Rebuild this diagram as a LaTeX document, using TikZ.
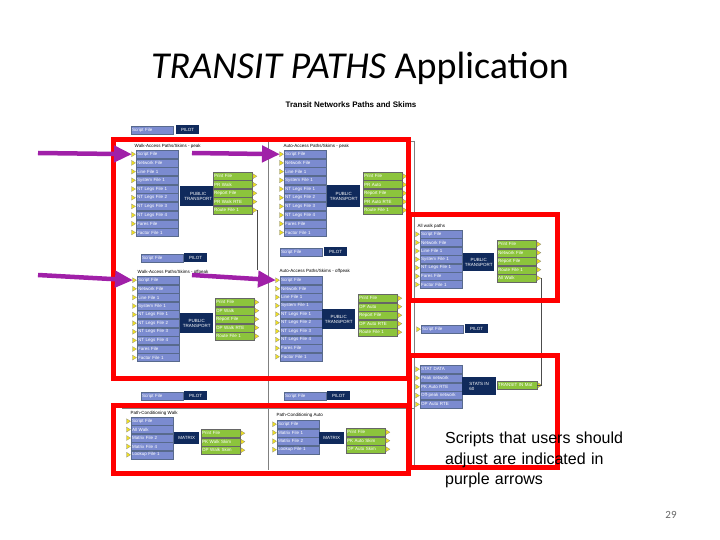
\documentclass[tikz,border=0pt]{standalone}
\usepackage{fontspec}
\setmainfont{Carlito}
\newfontfamily\smallsans{Liberation Sans}
\usetikzlibrary{calc,arrows.meta}
\definecolor{fblue}{HTML}{7B8BD0}
\definecolor{fgreen}{HTML}{8CC43C}
\definecolor{navy}{HTML}{102A5C}
\definecolor{pur}{HTML}{A020A8}
\definecolor{tri}{HTML}{F0E020}
\tikzset{
 bbox/.style={draw=navy!70,fill=fblue,text=white,font=\smallsans\fontsize{4.5}{5}\selectfont,anchor=north west,minimum height=8pt,inner sep=1pt,text width=#1pt,align=left},
 gbox/.style={draw=black!60,fill=fgreen,text=white,font=\smallsans\fontsize{4.5}{5}\selectfont,anchor=north west,minimum height=8pt,inner sep=1pt,text width=#1pt,align=left},
 pbox/.style={fill=navy,text=white,font=\smallsans\fontsize{4.5}{5}\selectfont,anchor=north west,inner sep=1pt,align=center},
 lab/.style={font=\smallsans\fontsize{4.5}{5}\selectfont,anchor=south west,inner sep=0.5pt},
 redbox/.style={draw=red,line width=5pt},
 parrow/.style={draw=pur,line width=4.5pt,-{Triangle[length=18pt,width=16pt]}},
 ytri/.style={fill=tri,draw=black!50,line width=0.2pt},
 frame/.style={draw=black!50,line width=0.6pt}
}
\newcommand\tri[1]{\filldraw[ytri] ($(#1)+(0.5,-2.5)$) -- ++(4,2.5) -- ++(-4,2.5) -- cycle;}
\newcommand\ltri[1]{\filldraw[ytri] ($(#1)+(-4.5,-2.5)$) -- ++(4,2.5) -- ++(-4,2.5) -- cycle;}
\begin{document}
\begin{tikzpicture}[x=1pt,y=-1pt]
\useasboundingbox (0,0) rectangle (720,540);
\node[font=\fontsize{38}{40}\selectfont] (title) at (360,68) {\textit{TRANSIT PATHS} Application};
\node[font=\smallsans\bfseries\fontsize{8}{9}\selectfont] (sub) at (351,105) {Transit Networks Paths and Skims};
% window frame lines
\draw[frame] (122,141) -- (415,141);
\draw[frame] (268,141) -- (268,470);
\draw[frame] (414,141) -- (414,470);
\draw[frame] (122,408) -- (414,408);
% script/pilot pairs
\node[bbox=40] (s1) at (131,126) {Script File}; \node[pbox,minimum width=23pt,minimum height=9pt] (p1) at (176,125) {PILOT};
\node[bbox=40] (s2) at (280,248) {Script File}; \node[pbox,minimum width=23pt,minimum height=9pt] (p2) at (324,247) {PILOT};
\node[bbox=40] (s3) at (141,254) {Script File}; \node[pbox,minimum width=23pt,minimum height=9pt] (p3) at (184,253) {PILOT};
\node[bbox=40] (s4) at (421,325) {Script File}; \node[pbox,minimum width=23pt,minimum height=9pt] (p4) at (465,324) {PILOT};
\node[bbox=40] (s5) at (141,392) {Script File}; \node[pbox,minimum width=23pt,minimum height=9pt] (p5) at (184,391) {PILOT};
\node[bbox=40] (s6) at (284,392) {Script File}; \node[pbox,minimum width=23pt,minimum height=9pt] (p6) at (327,391) {PILOT};
\ltri{s4.west}
% block 1
\node[lab] (l1) at (134,149) {Walk-Access Paths/Skims - peak};
\foreach \t [count=\i] in {Script File,Network File,Line File 1,System File 1,NT Legs File 1,NT Legs File 2,NT Legs File 3,NT Legs File 4,Fares File,Factor File 1}
 {\node[bbox=40] (a\i) at (136,150+8.7*\i-8.7) {\t}; \ltri{a\i.west}}
\node[pbox,minimum width=36pt,minimum height=20pt] (pa) at (180,186) {PUBLIC\\TRANSPORT};
\foreach \t [count=\i] in {Print File,PR Walk,Report File,PR Walk RTE,Route File 1}
 {\node[gbox=37] (ga\i) at (213,172+8.5*\i-8.5) {\t}; \tri{ga\i.east}}
% block 2
\node[lab] (l2) at (283,149) {Auto-Access Paths/Skims - peak};
\foreach \t [count=\i] in {Script File,Network File,Line File 1,System File 1,NT Legs File 1,NT Legs File 2,NT Legs File 3,NT Legs File 4,Fares File,Factor File 1}
 {\node[bbox=40] (b\i) at (284,150+8.7*\i-8.7) {\t}; \ltri{b\i.west}}
\node[pbox,minimum width=33pt,minimum height=22pt] (pb) at (327,185) {PUBLIC\\TRANSPORT};
\foreach \t [count=\i] in {Print File,PR Auto,Report File,PR Auto RTE,Route File 1}
 {\node[gbox=37] (gb\i) at (363,172+8.5*\i-8.5) {\t}; \tri{gb\i.east}}
% block 3
\node[lab] (l3) at (137,275) {Walk-Access Paths/Skims - offpeak};
\foreach \t [count=\i] in {Script File,Network File,Line File 1,System File 1,NT Legs File 1,NT Legs File 2,NT Legs File 3,NT Legs File 4,Fares File,Factor File 1}
 {\node[bbox=40] (c\i) at (137,276+8.6*\i-8.6) {\t}; \ltri{c\i.west}}
\node[pbox,minimum width=33pt,minimum height=20pt] (pc) at (180,313) {PUBLIC\\TRANSPORT};
\foreach \t [count=\i] in {Print File,OP Walk,Report File,OP Walk RTE,Route File 1}
 {\node[gbox=37] (gc\i) at (215,298+8.5*\i-8.5) {\t}; \tri{gc\i.east}}
% block 4
\node[lab] (l4) at (279,274) {Auto-Access Paths/Skims - offpeak};
\foreach \t [count=\i] in {Script File,Network File,Line File 1,System File 1,NT Legs File 1,NT Legs File 2,NT Legs File 3,NT Legs File 4,Fares File,Factor File 1}
 {\node[bbox=40] (d\i) at (280,276+8.5*\i-8.5) {\t}; \ltri{d\i.west}}
\node[pbox,minimum width=33pt,minimum height=20pt] (pd) at (322,309) {PUBLIC\\TRANSPORT};
\foreach \t [count=\i] in {Print File,OP Auto,Report File,OP Auto RTE,Route File 1}
 {\node[gbox=37] (gd\i) at (358,294+8.5*\i-8.5) {\t}; \tri{gd\i.east}}
% block 5
\node[lab] (l5) at (417,229) {All walk paths};
\foreach \t [count=\i] in {Script File,Network File,Line File 1,System File 1,NT Legs File 1,Fares File,Factor File 1}
 {\node[bbox=40] (e\i) at (420,230+8.4*\i-8.4) {\t}; \ltri{e\i.west}}
\node[pbox,minimum width=31pt,minimum height=18pt] (pe) at (463,253) {PUBLIC\\TRANSPORT};
\foreach \t [count=\i] in {Print File,Network File,Report File,Route File 1,All Walk}
 {\node[gbox=37] (ge\i) at (497,240+8.5*\i-8.5) {\t}; \tri{ge\i.east}}
% stats block
\foreach \t [count=\i] in {STAT DATA,Peak network,PK Auto RTE,Off-peak network,OP Auto RTE}
 {\node[bbox=40] (f\i) at (420,365+8.8*\i-8.8) {\t}; \ltri{f\i.west}}
\node[pbox,minimum width=34pt,minimum height=18pt,align=left] (pf) at (462,377) {STATS IN\\60};
\node[gbox=38] (gf1) at (497,381) {TRANSIT IN Mat}; \tri{gf1.east}
% bottom blocks
\node[lab] (l6) at (130,416) {Path-Conditioning Walk};
\foreach \t [count=\i] in {Script File,All Walk,Matrix File 2,Matrix File 4,Lookup File 1}
 {\node[bbox=40] (g\i) at (131,417+8.4*\i-8.4) {\t}; \ltri{g\i.west}}
\node[pbox,minimum width=25pt,minimum height=12pt] (pg) at (174,432) {MATRIX};
\foreach \t [count=\i] in {Print File,PK Walk Skim,OP Walk Skim}
 {\node[gbox=37] (gg\i) at (201,429+8.5*\i-8.5) {\t}; \tri{gg\i.east}}
\node[lab] (l7) at (276,418) {Path-Conditioning Auto};
\foreach \t [count=\i] in {Script File,Matrix File 1,Matrix File 2,Lookup File 1}
 {\node[bbox=40] (h\i) at (277,420+8.5*\i-8.5) {\t}; \ltri{h\i.west}}
\node[pbox,minimum width=25pt,minimum height=12pt] (ph) at (319,432) {MATRIX};
\foreach \t [count=\i] in {Print File,PK Auto Skim,OP Auto Skim}
 {\node[gbox=37] (gh\i) at (346,428+8.5*\i-8.5) {\t}; \tri{gh\i.east}}
% connector line
\draw[black!70,line width=0.5pt] ($(ga5.east)+(5,0)$) -- ++(0,60);
\draw[black!70,line width=0.5pt] ($(ge5.east)+(5,0)$) |- (gf1.east);
% red boxes
\draw[redbox] (113,140) rectangle (408,378);
\draw[redbox] (409,215) rectangle (557,300);
\draw[redbox] (409,355) rectangle (557,467);
\draw[redbox] (113,405) rectangle (408,473);
% purple arrows
\coordinate (u1) at (38,153); \coordinate (u2) at (192,153);
\coordinate (u3) at (38,275); \coordinate (u4) at (192,275);
\draw[parrow] (u1) -- ($(a1.west)+(-4,0)$);
\draw[parrow] (u2) -- ($(b1.west)+(-4,0)$);
\draw[parrow] (u3) -- ($(c1.west)+(-4,0)$);
\draw[parrow] (u4) -- ($(d1.west)+(-4,0)$);
% text
\node[anchor=north west,text width=190pt,align=left,font=\smallsans\fontsize{16}{20.5}\selectfont,inner sep=0pt] (note) at (445,432) {Scripts that users should adjust are indicated in purple arrows};
\node[font=\fontsize{11}{12}\selectfont,text=black!60] (pg29) at (671,515) {29};
\end{tikzpicture}
\end{document}
